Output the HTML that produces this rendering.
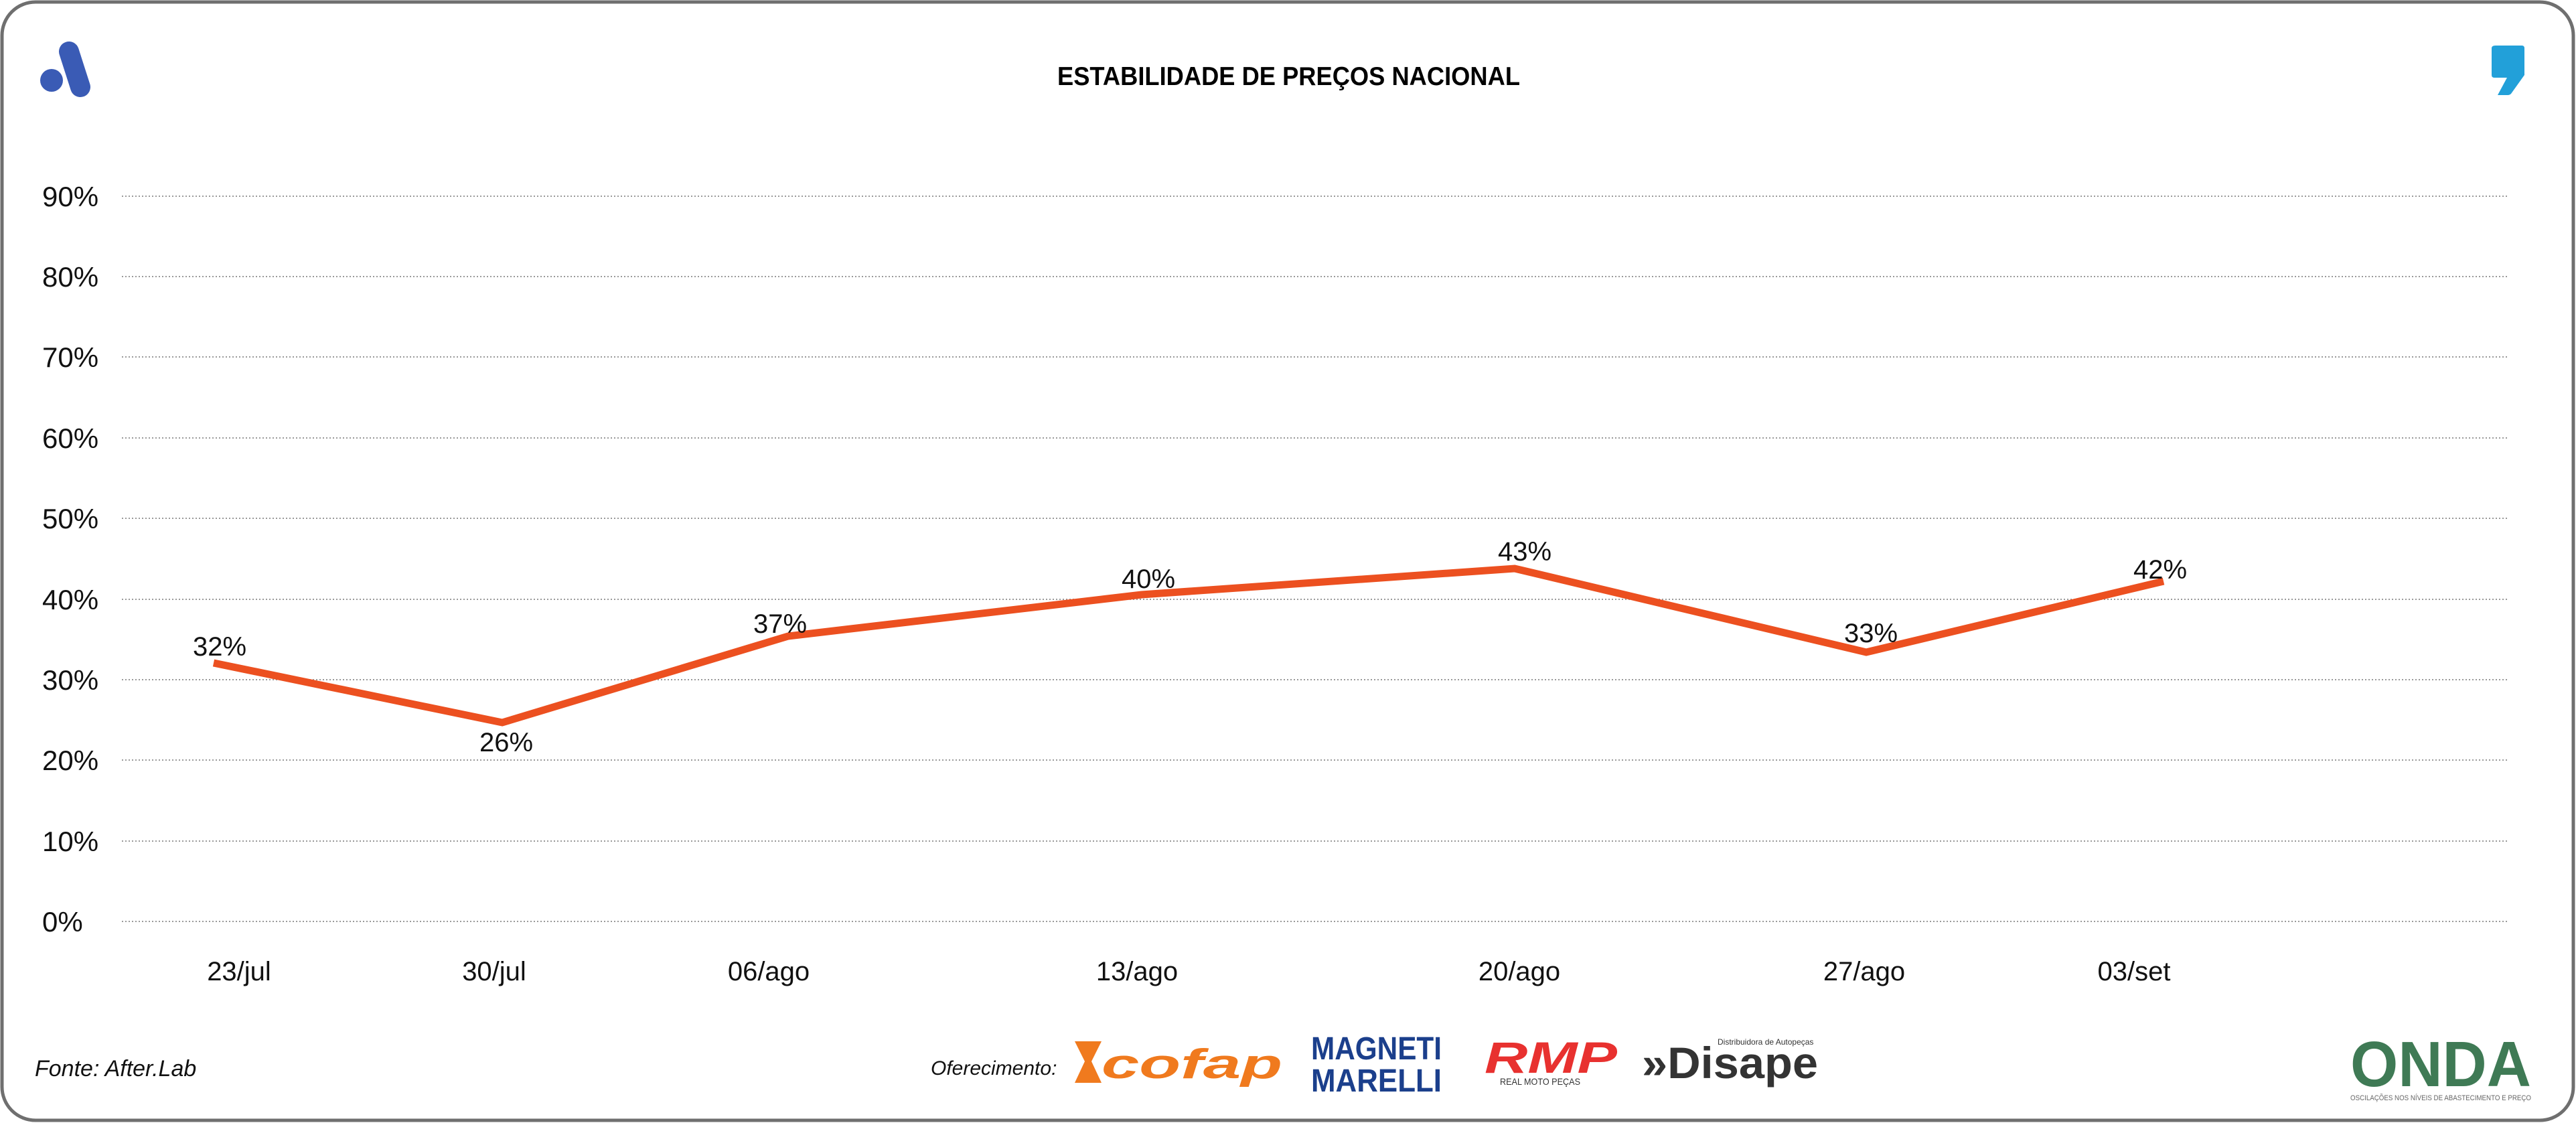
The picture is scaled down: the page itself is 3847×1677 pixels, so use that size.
<!DOCTYPE html>
<html><head><meta charset="utf-8"><style>
html,body{margin:0;padding:0;background:#fff;}
svg{display:block;}
text{font-family:"Liberation Sans",sans-serif;}
</style></head><body>
<svg width="3847" height="1677" viewBox="0 0 3847 1677" xmlns="http://www.w3.org/2000/svg">
<rect x="3" y="3" width="3840" height="1670" rx="50" ry="50" fill="#fff" stroke="#6f6f6f" stroke-width="5"/>
<!-- left logo -->
<g fill="#3a5bb5">
<ellipse cx="77" cy="120" rx="17" ry="17"/>
<line x1="103" y1="77" x2="120" y2="130" stroke="#3a5bb5" stroke-width="30" stroke-linecap="round"/>
</g>
<!-- right comma -->
<path d="M3727 68 L3766 68 Q3770 68 3770 72 L3770 112 L3750 140 Q3748 142 3745 142 L3730 142 L3744 116 L3725 116 Q3721 116 3721 112 L3721 72 Q3721 68 3727 68 Z" fill="#22a0d9"/>
<text x="1579" y="127" font-size="39" font-weight="bold" textLength="691" lengthAdjust="spacingAndGlyphs">ESTABILIDADE DE PREÇOS NACIONAL</text>
<!-- grid -->
<g stroke="#999" stroke-width="2" stroke-dasharray="2,3">
<line x1="182" y1="293" x2="3746" y2="293"/>
<line x1="182" y1="413" x2="3746" y2="413"/>
<line x1="182" y1="533" x2="3746" y2="533"/>
<line x1="182" y1="654" x2="3746" y2="654"/>
<line x1="182" y1="774" x2="3746" y2="774"/>
<line x1="182" y1="895" x2="3746" y2="895"/>
<line x1="182" y1="1015" x2="3746" y2="1015"/>
<line x1="182" y1="1135" x2="3746" y2="1135"/>
<line x1="182" y1="1256" x2="3746" y2="1256"/>
<line x1="182" y1="1376" x2="3746" y2="1376"/>
</g>
<g font-size="42" fill="#111">
<text x="63" y="308">90%</text>
<text x="63" y="428">80%</text>
<text x="63" y="548">70%</text>
<text x="63" y="669">60%</text>
<text x="63" y="789">50%</text>
<text x="63" y="910">40%</text>
<text x="63" y="1030">30%</text>
<text x="63" y="1150">20%</text>
<text x="63" y="1271">10%</text>
<text x="63" y="1391">0%</text>
</g>
<polyline points="319,990 750,1079 1177,950 1705,888 2262,849 2787,974 3231,868" fill="none" stroke="#ec5020" stroke-width="11" stroke-linejoin="miter"/>
<g font-size="40" fill="#111" text-anchor="middle">
<text x="328" y="979">32%</text>
<text x="756" y="1122">26%</text>
<text x="1165" y="945">37%</text>
<text x="1715" y="878">40%</text>
<text x="2277" y="837">43%</text>
<text x="2794" y="959">33%</text>
<text x="3226" y="864">42%</text>
</g>
<g font-size="40" fill="#111" text-anchor="middle">
<text x="357" y="1464">23/jul</text>
<text x="738" y="1464">30/jul</text>
<text x="1148" y="1464">06/ago</text>
<text x="1698" y="1464">13/ago</text>
<text x="2269" y="1464">20/ago</text>
<text x="2784" y="1464">27/ago</text>
<text x="3187" y="1464">03/set</text>
</g>
<text x="52" y="1607" font-size="34" font-style="italic" fill="#111">Fonte: After.Lab</text>
<text x="1390" y="1605" font-size="30" font-style="italic" fill="#111">Oferecimento:</text>
<!-- cofap -->
<path d="M1605 1555 L1645 1555 L1630 1585 L1645 1617 L1605 1617 L1620 1585 Z" fill="#f07a1e"/>
<text x="1645" y="1610" font-size="62" font-weight="bold" font-style="italic" fill="#f07a1e" textLength="270" lengthAdjust="spacingAndGlyphs">cofap</text>
<!-- magneti marelli -->
<text x="1958" y="1582" font-size="48" font-weight="bold" fill="#1b3f8c" textLength="195" lengthAdjust="spacingAndGlyphs">MAGNETI</text>
<text x="1958" y="1630" font-size="48" font-weight="bold" fill="#1b3f8c" textLength="195" lengthAdjust="spacingAndGlyphs">MARELLI</text>
<!-- RMP -->
<text x="2217" y="1602" font-size="66" font-weight="bold" font-style="italic" fill="#e8312f" textLength="198" lengthAdjust="spacingAndGlyphs">RMP</text>
<text x="2240" y="1620" font-size="14" fill="#333" textLength="120" lengthAdjust="spacingAndGlyphs">REAL MOTO PEÇAS</text>
<!-- Disape -->
<text x="2565" y="1560" font-size="12" fill="#333">Distribuidora de Autopeças</text>
<text x="2452" y="1610" font-size="66" font-weight="bold" fill="#333" textLength="263" lengthAdjust="spacingAndGlyphs">»Disape</text>
<!-- ONDA -->
<text x="3510" y="1622" font-size="96" font-weight="bold" fill="#3f7a55" textLength="270" lengthAdjust="spacingAndGlyphs">ONDA</text>
<text x="3510" y="1643" font-size="11" fill="#666" textLength="270" lengthAdjust="spacingAndGlyphs">OSCILAÇÕES NOS NÍVEIS DE ABASTECIMENTO E PREÇO</text>
</svg>
</body></html>
